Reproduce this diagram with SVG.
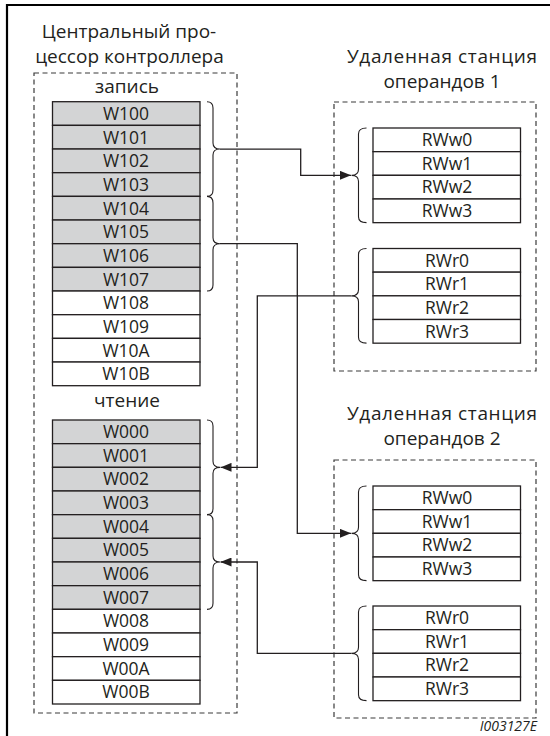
<svg xmlns="http://www.w3.org/2000/svg" width="550" height="736" viewBox="0 0 550 736">
<defs>
<style>
.frame{fill:none;stroke:#000;stroke-width:2.2}
.dash{fill:none;stroke:#3a3a3a;stroke-width:1.2;stroke-dasharray:5 3.5}
.g{fill:#d3d4d5;stroke:#231f20;stroke-width:1.3}
.w{fill:#fff;stroke:#231f20;stroke-width:1.3}
.br{fill:none;stroke:#231f20;stroke-width:1.1}
.con{fill:none;stroke:#231f20;stroke-width:1.3}
text{font-family:"Open Sans","Noto Sans","DejaVu Sans",sans-serif;fill:#231f20}
.t{font-size:19px;text-anchor:middle}
.c{font-size:17.5px;text-anchor:middle}
.id{font-size:14px;font-style:italic;text-anchor:end}
</style>
<marker id="ah" markerUnits="userSpaceOnUse" markerWidth="11" markerHeight="9" refX="11" refY="4.5" orient="auto">
<path d="M0,0 L11,4.5 L0,9 z" fill="#231f20"/>
</marker>
</defs>
<path class="frame" d="M7,740 V5 H560"/>

<g id="cpu">
<text class="t" x="129" y="38">Центральный про-</text>
<text class="t" x="129.5" y="63">цессор контроллера</text>
<rect class="dash" x="34" y="73" width="203" height="640"/>
<text class="t" x="127" y="93">запись</text>
<g id="write">
<rect class="g" x="52.5" y="101.7" width="147.5" height="23.67"/><text class="c" x="126" y="119.8">W100</text>
<rect class="g" x="52.5" y="125.37" width="147.5" height="23.67"/><text class="c" x="126" y="143.5">W101</text>
<rect class="g" x="52.5" y="149.03" width="147.5" height="23.67"/><text class="c" x="126" y="167.1">W102</text>
<rect class="g" x="52.5" y="172.7" width="147.5" height="23.67"/><text class="c" x="126" y="190.8">W103</text>
<rect class="g" x="52.5" y="196.37" width="147.5" height="23.67"/><text class="c" x="126" y="214.5">W104</text>
<rect class="g" x="52.5" y="220.03" width="147.5" height="23.67"/><text class="c" x="126" y="238.1">W105</text>
<rect class="g" x="52.5" y="243.7" width="147.5" height="23.67"/><text class="c" x="126" y="261.8">W106</text>
<rect class="g" x="52.5" y="267.37" width="147.5" height="23.67"/><text class="c" x="126" y="285.5">W107</text>
<rect class="w" x="52.5" y="291.03" width="147.5" height="23.67"/><text class="c" x="126" y="309.1">W108</text>
<rect class="w" x="52.5" y="314.7" width="147.5" height="23.67"/><text class="c" x="126" y="332.8">W109</text>
<rect class="w" x="52.5" y="338.37" width="147.5" height="23.67"/><text class="c" x="126" y="356.5">W10A</text>
<rect class="w" x="52.5" y="362.03" width="147.5" height="23.67"/><text class="c" x="126" y="380.1">W10B</text>
</g>
<text class="t" x="127" y="407">чтение</text>
<g id="read">
<rect class="g" x="52.5" y="420" width="147.5" height="23.67"/><text class="c" x="126" y="438.1">W000</text>
<rect class="g" x="52.5" y="443.67" width="147.5" height="23.67"/><text class="c" x="126" y="461.8">W001</text>
<rect class="g" x="52.5" y="467.33" width="147.5" height="23.67"/><text class="c" x="126" y="485.4">W002</text>
<rect class="g" x="52.5" y="491" width="147.5" height="23.67"/><text class="c" x="126" y="509.1">W003</text>
<rect class="g" x="52.5" y="514.67" width="147.5" height="23.67"/><text class="c" x="126" y="532.8">W004</text>
<rect class="g" x="52.5" y="538.33" width="147.5" height="23.67"/><text class="c" x="126" y="556.4">W005</text>
<rect class="g" x="52.5" y="562" width="147.5" height="23.67"/><text class="c" x="126" y="580.1">W006</text>
<rect class="g" x="52.5" y="585.67" width="147.5" height="23.67"/><text class="c" x="126" y="603.8">W007</text>
<rect class="w" x="52.5" y="609.33" width="147.5" height="23.67"/><text class="c" x="126" y="627.4">W008</text>
<rect class="w" x="52.5" y="633" width="147.5" height="23.67"/><text class="c" x="126" y="651.1">W009</text>
<rect class="w" x="52.5" y="656.67" width="147.5" height="23.67"/><text class="c" x="126" y="674.8">W00A</text>
<rect class="w" x="52.5" y="680.33" width="147.5" height="23.67"/><text class="c" x="126" y="698.4">W00B</text>
</g>
<g id="cpu-braces">
<path class="br" d="M207,101.7 Q213,101.7 213,108 V143 Q213,149.03 220,149.03 Q213,149.03 213,155 V190 Q213,196.37 207,196.37"/>
<path class="br" d="M207,196.37 Q213,196.37 213,203 V237.7 Q213,243.7 220,243.7 Q213,243.7 213,249.7 V285 Q213,291.03 207,291.03"/>
<path class="br" d="M207,420 Q213,420 213,426 V461.3 Q213,467.33 220,467.33 Q213,467.33 213,473.3 V508.7 Q213,514.67 207,514.67"/>
<path class="br" d="M207,514.67 Q213,514.67 213,520.7 V556 Q213,562 220,562 Q213,562 213,568 V603.3 Q213,609.33 207,609.33"/>
</g>
</g>

<g id="station1">
<text class="t" x="442" y="63" textLength="190" lengthAdjust="spacing">Удаленная станция</text>
<text class="t" x="442" y="88">операндов 1</text>
<rect class="dash" x="334" y="102" width="202" height="269"/>
<rect class="w" x="373" y="128" width="147.5" height="23.67"/><text class="c" x="447" y="146.1">RWw0</text>
<rect class="w" x="373" y="151.67" width="147.5" height="23.67"/><text class="c" x="447" y="169.8">RWw1</text>
<rect class="w" x="373" y="175.33" width="147.5" height="23.67"/><text class="c" x="447" y="193.4">RWw2</text>
<rect class="w" x="373" y="199" width="147.5" height="23.67"/><text class="c" x="447" y="217.1">RWw3</text>
<rect class="w" x="373" y="248.5" width="147.5" height="23.67"/><text class="c" x="447" y="266.6">RWr0</text>
<rect class="w" x="373" y="272.17" width="147.5" height="23.67"/><text class="c" x="447" y="290.3">RWr1</text>
<rect class="w" x="373" y="295.83" width="147.5" height="23.67"/><text class="c" x="447" y="313.9">RWr2</text>
<rect class="w" x="373" y="319.5" width="147.5" height="23.67"/><text class="c" x="447" y="337.6">RWr3</text>
<path class="br" d="M366.5,128 Q358.5,128 358.5,134 V169.3 Q358.5,175.33 351.5,175.33 Q358.5,175.33 358.5,181.3 V216.7 Q358.5,222.67 366.5,222.67"/>
<path class="br" d="M366.5,248.5 Q358.5,248.5 358.5,254.5 V289.8 Q358.5,295.83 351.5,295.83 Q358.5,295.83 358.5,301.8 V337.2 Q358.5,343.17 366.5,343.17"/>
</g>

<g id="station2">
<text class="t" x="442" y="420" textLength="190" lengthAdjust="spacing">Удаленная станция</text>
<text class="t" x="442" y="445">операндов 2</text>
<rect class="dash" x="334" y="460" width="202" height="258"/>
<rect class="w" x="373" y="486" width="147.5" height="23.67"/><text class="c" x="447" y="504.1">RWw0</text>
<rect class="w" x="373" y="509.67" width="147.5" height="23.67"/><text class="c" x="447" y="527.8">RWw1</text>
<rect class="w" x="373" y="533.33" width="147.5" height="23.67"/><text class="c" x="447" y="551.4">RWw2</text>
<rect class="w" x="373" y="557" width="147.5" height="23.67"/><text class="c" x="447" y="575.1">RWw3</text>
<rect class="w" x="373" y="606" width="147.5" height="23.67"/><text class="c" x="447" y="624.1">RWr0</text>
<rect class="w" x="373" y="629.67" width="147.5" height="23.67"/><text class="c" x="447" y="647.8">RWr1</text>
<rect class="w" x="373" y="653.33" width="147.5" height="23.67"/><text class="c" x="447" y="671.4">RWr2</text>
<rect class="w" x="373" y="677" width="147.5" height="23.67"/><text class="c" x="447" y="695.1">RWr3</text>
<path class="br" d="M366.5,486 Q358.5,486 358.5,492 V527.3 Q358.5,533.33 351.5,533.33 Q358.5,533.33 358.5,539.3 V574.7 Q358.5,580.67 366.5,580.67"/>
<path class="br" d="M366.5,606 Q358.5,606 358.5,612 V647.3 Q358.5,653.33 351.5,653.33 Q358.5,653.33 358.5,659.3 V694.7 Q358.5,700.67 366.5,700.67"/>
</g>

<g id="connectors">
<path class="con" d="M220,149.03 H300.7 V175.33 H351" marker-end="url(#ah)"/>
<path class="con" d="M220,243.7 H297.3 V533.33 H351" marker-end="url(#ah)"/>
<path class="con" d="M351.5,295.83 H257.3 V467.33 H220.5" marker-end="url(#ah)"/>
<path class="con" d="M351.5,653.33 H257.3 V562 H220.5" marker-end="url(#ah)"/>
</g>

<text class="id" x="537" y="731">I003127E</text>
</svg>
